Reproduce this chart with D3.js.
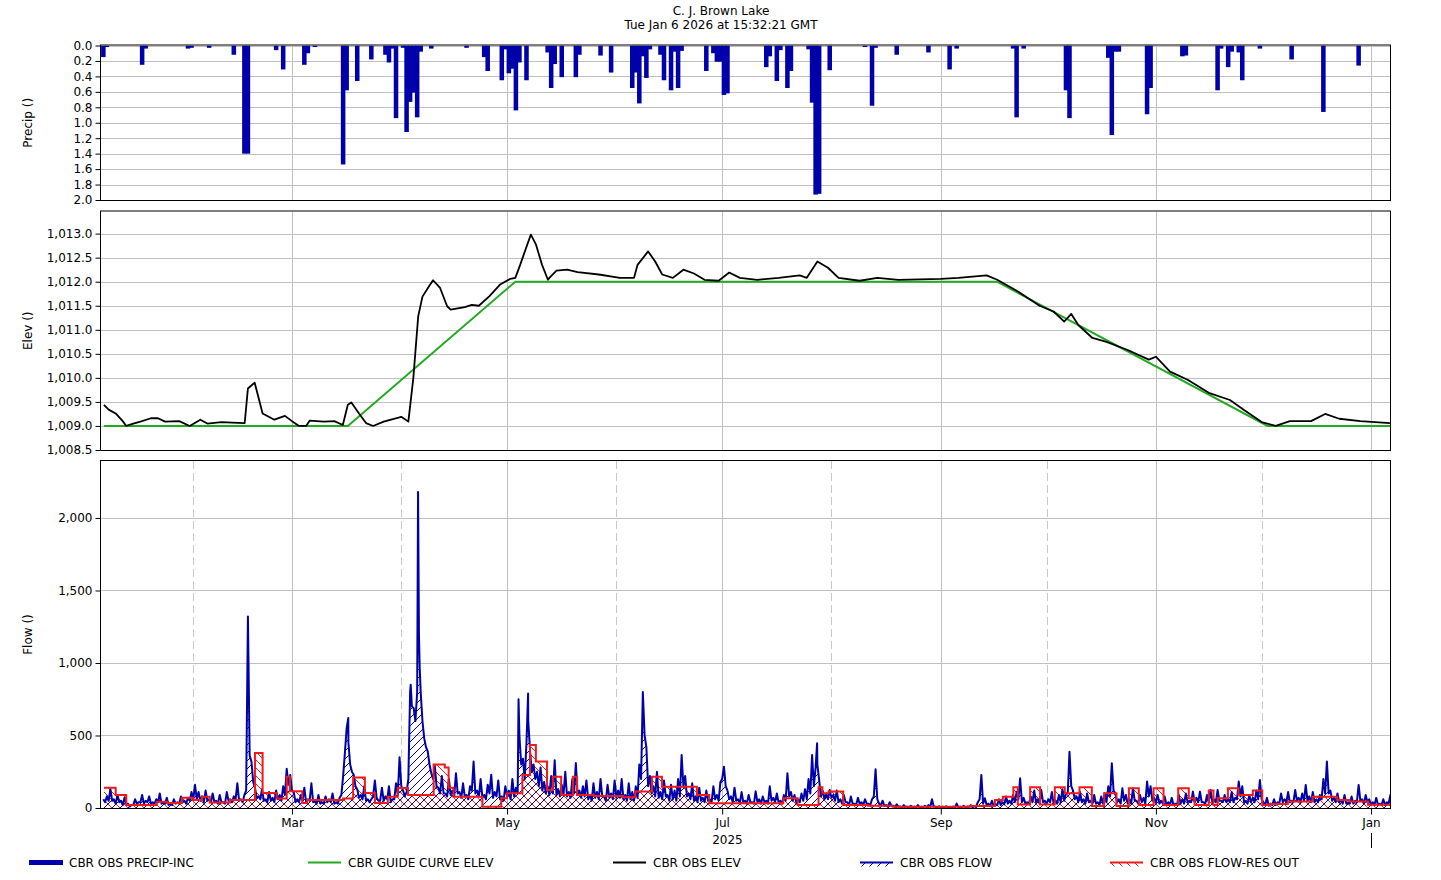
<!DOCTYPE html>
<html><head><meta charset="utf-8">
<script src="https://cdn.jsdelivr.net/npm/d3@7"></script>
<style>
body{margin:0;background:#fff;}
svg text{font-family:"DejaVu Sans",sans-serif;font-size:12px;fill:#000;}
</style>
</head><body>
<svg id="c" width="1441" height="880"></svg>
<script>
// ---------------- DATA ----------------
const title = "C. J. Brown Lake";
const subtitle = "Tue Jan 6 2026 at 15:32:21 GMT";
const precipTicks = [0.0,0.2,0.4,0.6,0.8,1.0,1.2,1.4,1.6,1.8,2.0];
const elevTicks = [1008.5,1009.0,1009.5,1010.0,1010.5,1011.0,1011.5,1012.0,1012.5,1013.0];
const flowTicks = [0,500,1000,1500,2000];
const majorMonths = ["2025-03-01","2025-05-01","2025-07-01","2025-09-01","2025-11-01","2026-01-01"];
const minorMonths = ["2025-02-01","2025-04-01","2025-06-01","2025-08-01","2025-10-01","2025-12-01"];
const yearLabel = "2025";
const legendItems = ["CBR OBS PRECIP-INC","CBR GUIDE CURVE ELEV","CBR OBS ELEV","CBR OBS FLOW","CBR OBS FLOW-RES OUT"];

const precip = [
["2025-01-06",0.15],["2025-01-07",0.02],["2025-01-17",0.25],["2025-01-18",0.04],["2025-01-30",0.04],["2025-01-31",0.03],
["2025-02-05",0.03],["2025-02-12",0.12],["2025-02-15",1.40],["2025-02-16",1.40],["2025-02-24",0.06],["2025-02-26",0.31],
["2025-03-04",0.25],["2025-03-05",0.10],["2025-03-07",0.02],["2025-03-15",1.54],["2025-03-16",0.58],["2025-03-19",0.46],
["2025-03-23",0.18],["2025-03-27",0.12],["2025-03-28",0.22],["2025-03-29",0.04],["2025-03-30",0.94],
["2025-04-01",0.03],["2025-04-02",1.12],["2025-04-03",0.73],["2025-04-04",0.61],["2025-04-05",0.93],["2025-04-06",0.08],
["2025-04-09",0.04],["2025-04-19",0.03],["2025-04-24",0.15],["2025-04-25",0.33],["2025-04-29",0.45],["2025-04-30",0.05],
["2025-05-01",0.36],["2025-05-02",0.30],["2025-05-03",0.84],["2025-05-04",0.22],["2025-05-06",0.45],["2025-05-12",0.09],
["2025-05-13",0.55],["2025-05-14",0.24],["2025-05-16",0.41],["2025-05-20",0.41],["2025-05-21",0.12],["2025-05-27",0.13],
["2025-05-30",0.35],["2025-06-05",0.55],["2025-06-06",0.35],["2025-06-07",0.75],["2025-06-08",0.14],["2025-06-09",0.42],
["2025-06-10",0.05],["2025-06-13",0.12],["2025-06-14",0.45],["2025-06-16",0.58],["2025-06-17",0.08],["2025-06-18",0.55],
["2025-06-19",0.07],["2025-06-26",0.33],["2025-06-28",0.10],["2025-06-29",0.21],["2025-06-30",0.21],["2025-07-01",0.64],
["2025-07-02",0.62],["2025-07-13",0.28],["2025-07-14",0.14],["2025-07-16",0.46],["2025-07-17",0.06],["2025-07-19",0.55],
["2025-07-20",0.33],["2025-07-25",0.05],["2025-07-26",0.74],["2025-07-27",1.93],["2025-07-28",1.92],["2025-07-31",0.32],
["2025-08-10",0.02],["2025-08-12",0.78],["2025-08-13",0.03],["2025-08-19",0.12],["2025-08-28",0.09],["2025-09-03",0.31],
["2025-09-05",0.04],["2025-09-21",0.04],["2025-09-22",0.93],["2025-09-24",0.04],["2025-10-06",0.58],["2025-10-07",0.94],
["2025-10-18",0.16],["2025-10-19",1.16],["2025-10-20",0.08],["2025-10-21",0.08],["2025-10-29",0.89],["2025-10-30",0.55],
["2025-11-08",0.14],["2025-11-09",0.13],["2025-11-18",0.58],["2025-11-19",0.04],["2025-11-21",0.28],["2025-11-22",0.08],
["2025-11-24",0.09],["2025-11-25",0.45],["2025-11-30",0.04],["2025-12-09",0.18],["2025-12-18",0.86],["2025-12-28",0.26]
];

const guideCurve = [["2025-01-06T16:00",1009.0],["2025-03-16T20:00",1009.0],["2025-05-03T08:00",1012.0],
["2025-09-16T22:00",1012.0],["2025-12-02T16:00",1009.0],["2026-01-06T09:30",1009.0]];

const elevObs = [
["2025-01-06T16:00",1009.44],["2025-01-08",1009.34],["2025-01-10",1009.26],["2025-01-12",1009.1],["2025-01-13",1009.0],
["2025-01-15",1009.05],["2025-01-17",1009.09],["2025-01-20",1009.16],["2025-01-22",1009.16],["2025-01-24",1009.09],
["2025-01-28",1009.1],["2025-01-31",1009.0],["2025-02-03",1009.13],["2025-02-05",1009.05],["2025-02-09",1009.08],
["2025-02-12",1009.07],["2025-02-15T14:00",1009.06],["2025-02-16T12:00",1009.78],["2025-02-18T10:00",1009.9],
["2025-02-20T16:00",1009.26],["2025-02-24",1009.13],["2025-02-27",1009.21],["2025-03-01",1009.1],["2025-03-03",1009.0],
["2025-03-05",1009.0],["2025-03-06",1009.11],["2025-03-10",1009.09],["2025-03-13",1009.1],["2025-03-15T10:00",1009.02],
["2025-03-16T20:00",1009.44],["2025-03-17T20:00",1009.49],["2025-03-20",1009.26],["2025-03-22",1009.06],["2025-03-24",1009.0],
["2025-03-27",1009.09],["2025-04-01",1009.19],["2025-04-03",1009.09],["2025-04-04T10:00",1010.0],["2025-04-05T19:00",1011.28],
["2025-04-07",1011.69],["2025-04-09",1011.92],["2025-04-10",1012.03],["2025-04-12",1011.87],["2025-04-14",1011.49],
["2025-04-15",1011.42],["2025-04-19",1011.47],["2025-04-21",1011.52],["2025-04-23",1011.5],["2025-04-26",1011.7],
["2025-04-29",1011.94],["2025-05-01T22:00",1012.06],["2025-05-03T08:00",1012.08],["2025-05-04T17:00",1012.35],
["2025-05-06T17:00",1012.77],["2025-05-07T18:00",1012.98],["2025-05-09T05:00",1012.77],["2025-05-10T22:00",1012.35],
["2025-05-12T14:00",1012.04],["2025-05-13",1012.08],["2025-05-15",1012.23],["2025-05-18",1012.25],["2025-05-21",1012.2],
["2025-05-27",1012.15],["2025-06-02",1012.08],["2025-06-06",1012.08],["2025-06-07",1012.35],["2025-06-10",1012.63],
["2025-06-12",1012.42],["2025-06-14",1012.15],["2025-06-17",1012.08],["2025-06-20",1012.25],["2025-06-23",1012.17],
["2025-06-26",1012.04],["2025-06-30",1012.02],["2025-07-03",1012.19],["2025-07-06",1012.08],["2025-07-11",1012.04],
["2025-07-17",1012.08],["2025-07-23",1012.13],["2025-07-25",1012.08],["2025-07-28",1012.42],["2025-07-31",1012.29],
["2025-08-03",1012.08],["2025-08-09",1012.02],["2025-08-14",1012.08],["2025-08-20",1012.04],["2025-09-01",1012.06],
["2025-09-06",1012.08],["2025-09-14",1012.13],["2025-09-17",1012.04],["2025-09-23",1011.79],["2025-09-29",1011.5],
["2025-10-03",1011.38],["2025-10-06",1011.17],["2025-10-08",1011.33],["2025-10-10",1011.1],["2025-10-14",1010.83],
["2025-10-18",1010.75],["2025-10-24",1010.58],["2025-10-30",1010.38],["2025-11-01",1010.44],["2025-11-05",1010.13],
["2025-11-10",1009.96],["2025-11-16",1009.69],["2025-11-22",1009.54],["2025-11-26",1009.33],["2025-12-01",1009.08],
["2025-12-05",1009.0],["2025-12-09",1009.1],["2025-12-15",1009.1],["2025-12-19",1009.25],["2025-12-23",1009.15],
["2025-12-29",1009.1],["2026-01-06T09:00",1009.06]
];

// observed flow: noon values and following-midnight values, one pair of arrays per month
const flowJan = [60,80,130,60,90,50,70,30,20,60,40,90,50,80,40,60,100,40,70,30,60,40,80,50,70,110]; // from Jan 6
const flowJanN = [40,50,50,30,40,20,30,10,20,30,40,30,40,30,30,40,30,30,20,20,30,30,40,30,50,60];
const flowFeb = [160,110,80,120,60,100,50,90,40,110,60,80,170,60,90,1320,320,140,80,130,60,110,70,120,90,150,270,228];
const flowFebN = [60,50,40,50,40,40,30,40,30,50,40,60,50,40,120,360,180,70,60,50,40,50,40,60,50,90,160,120];
const flowMar = [110,60,90,140,60,170,50,90,40,80,60,100,40,70,220,550,300,230,130,90,150,60,60,190,50,140,80,150,60,170,350];
const flowMarN = [40,40,50,40,50,40,30,30,30,40,40,30,30,90,380,450,250,150,70,60,50,40,80,70,50,50,60,40,60,90,150];
const flowApr = [120,110,800,690,800,800,480,390,240,290,140,220,100,200,120,240,110,170,90,150,320,120,200,90,160,230,110,190,80,150];
const flowAprN = [80,200,700,600,1200,600,420,300,200,150,100,100,80,90,80,100,70,80,60,120,100,80,70,60,100,70,80,60,50,80];
const flowMay = [120,200,140,500,340,450,400,300,250,280,180,150,220,330,130,160,250,110,200,310,120,150,190,90,170,110,200,80,160,100,190];
const flowMayN = [60,80,100,300,200,600,250,200,150,120,100,90,100,90,80,90,80,70,100,90,70,80,60,50,70,60,80,50,70,60,70];
const flowJun = [120,200,90,170,110,150,300,800,420,220,150,250,110,190,90,160,120,200,365,220,100,170,80,140,70,120,60,150,90,180];
const flowJunN = [70,60,50,60,50,70,200,500,150,100,80,70,60,80,50,60,50,80,150,80,60,50,40,50,40,50,40,60,50,200];
const flowJul = [285,120,80,140,60,110,50,90,40,115,60,80,50,150,70,100,50,90,240,110,90,60,100,130,200,365,280,193,120,100,124];
const flowJulN = [150,60,40,50,30,40,30,40,30,40,30,40,30,50,40,40,30,50,80,50,40,40,50,60,100,150,300,80,60,60,70];
const flowAug = [90,120,60,90,40,80,30,70,40,60,30,60,267,30,50,20,40,15,25,10,20,8,15,10,20,8,15,20,60,8,12];
const flowAugN = [50,40,30,40,20,30,20,30,20,30,20,80,60,20,15,10,15,8,8,5,8,5,5,5,5,5,5,8,10,5,5];
const flowSep = [8,12,6,10,30,8,15,10,20,12,40,228,67,30,50,25,60,40,80,50,90,110,205,70,40,80,120,60,124,50];
const flowSepN = [5,4,5,5,5,5,5,8,5,10,60,30,20,15,15,20,20,25,30,30,40,60,40,30,30,40,40,30,40,30];
const flowOct = [60,110,50,90,130,100,388,120,80,110,60,100,50,90,40,80,100,150,308,100,60,136,90,60,136,50,90,70,182,150,70];
const flowOctN = [40,30,30,40,50,100,150,60,40,40,30,40,30,30,20,30,40,80,120,40,30,50,30,30,50,30,40,30,80,50,40];
const flowNov = [90,50,80,40,70,30,90,60,100,50,113,70,113,40,90,124,60,124,50,90,60,110,70,182,150,50,90,70,120,193];
const flowNovN = [30,30,20,20,20,20,30,30,40,40,40,40,40,30,40,40,40,50,40,40,40,40,60,80,40,30,40,40,60,60];
const flowDec = [40,70,30,60,40,100,60,110,50,124,70,100,159,80,110,60,90,200,320,120,70,100,50,90,40,80,50,159,60,90,60];
const flowDecN = [20,15,20,20,30,40,40,40,40,50,40,50,50,40,40,40,60,100,100,50,40,40,30,30,30,30,40,50,30,40,20];
const flowJan26 = [40,70,30,60,40,90];
const flowJan26N = [20,20,20,20,30,40];
const flowMonthStarts = ["2025-01-06","2025-02-01","2025-03-01","2025-04-01","2025-05-01","2025-06-01","2025-07-01",
"2025-08-01","2025-09-01","2025-10-01","2025-11-01","2025-12-01","2026-01-01"];
// sub-daily peaks
const flowPeaks = [["2025-03-16T23:00",620],["2025-04-03T16:00",850],["2025-04-05T18:00",2180],["2025-04-06T05:00",975],
["2025-05-04T06:00",750],["2025-05-06T23:00",790],["2025-07-27T22:00",446]];

// reservoir outflow (step changes)
const resOut = [
["2025-01-06T16:00",140],["2025-01-10",90],["2025-01-13",20],["2025-01-21T16:00",43],["2025-01-24T12:00",35],
["2025-01-28T18:00",71],["2025-02-01",55],["2025-02-03T12:00",78],["2025-02-05T16:00",38],["2025-02-11T10:00",55],
["2025-02-18T12:00",379],["2025-02-20T16:00",103],["2025-02-24T16:00",66],["2025-02-27T12:00",216],["2025-02-28T10:00",115],
["2025-03-03T22:00",35],["2025-03-05T08:00",55],["2025-03-15T12:00",66],["2025-03-18T08:00",210],["2025-03-21T16:00",103],
["2025-03-24T12:00",35],["2025-03-28T04:00",78],["2025-03-31",138],["2025-04-02T22:00",90],["2025-04-10T04:00",300],
["2025-04-13T08:00",280],["2025-04-14T10:00",140],["2025-04-15T20:00",78],["2025-04-24",9],["2025-04-29T08:00",67],
["2025-05-01",101],["2025-05-05T08:00",228],["2025-05-07T12:00",434],["2025-05-09T04:00",320],["2025-05-12T08:00",124],
["2025-05-14",216],["2025-05-16T08:00",90],["2025-05-19T16:00",216],["2025-05-20T20:00",90],["2025-05-25T14:00",83],
["2025-06-02T22:00",74],["2025-06-06T08:00",113],["2025-06-11T02:00",216],["2025-06-13T22:00",147],["2025-06-23T20:00",90],
["2025-06-27T08:00",32],["2025-07-18T08:00",67],["2025-07-22T10:00",20],["2025-07-28T08:00",143],["2025-07-29T10:00",101],
["2025-07-31T04:00",113],["2025-08-04T08:00",20],["2025-08-11T08:00",16],["2025-08-18T08:00",9],["2025-09-09T08:00",14],
["2025-09-16T08:00",55],["2025-09-18T14:00",78],["2025-09-21T14:00",143],["2025-09-22T20:00",25],["2025-09-26T08:00",143],
["2025-09-29T04:00",25],["2025-10-03T08:00",143],["2025-10-06T04:00",101],["2025-10-10T08:00",143],["2025-10-13T20:00",14],
["2025-10-17T08:00",101],["2025-10-20T20:00",14],["2025-10-24T08:00",136],["2025-10-27T04:00",20],["2025-10-31T08:00",136],
["2025-11-03T04:00",20],["2025-11-07T08:00",136],["2025-11-10T08:00",67],["2025-11-12",20],["2025-11-16",120],
["2025-11-17T08:00",20],["2025-11-18T12:00",67],["2025-11-21T10:00",136],["2025-11-24T10:00",90],["2025-11-28T12:00",120],
["2025-12-01T04:00",20],["2025-12-03T04:00",28],["2025-12-08T10:00",44],["2025-12-15T10:00",78],["2025-12-22T10:00",55],
["2025-12-25T22:00",44],["2025-12-31T04:00",23],["2026-01-06T12:00",23]
];

// ---------------- RENDER ----------------
const NAVY = "#0000aa", RED = "#f01a1a", GREEN = "#22aa22", GRID = "#c0c0c0";
function pd(s){ return new Date(s.length === 10 ? s + "T00:00:00Z" : s + "Z"); }

const svg = d3.select("#c");
const X0 = 101, X1 = 1390;
const x = d3.scaleUtc().domain([pd("2025-01-05T20:00"), pd("2026-01-06T09:30")]).range([X0, X1]);
const Pn = {top:45.5, bottom:200}, En = {top:211.5, bottom:450}, Fn = {top:461, bottom:808};
const yP = d3.scaleLinear().domain([0, 2.0]).range([Pn.top, Pn.bottom]);
const yE = d3.scaleLinear().domain([1008.5, 1013.46]).range([En.bottom, En.top]);
const yF = d3.scaleLinear().domain([0, 2393]).range([Fn.bottom, Fn.top]);
const cr = v => Math.round(v) + 0.5;

const defs = svg.append("defs");
[["clipP",Pn],["clipE",En],["clipF",Fn]].forEach(([id,p])=>{
  defs.append("clipPath").attr("id",id).append("rect").attr("x",X0).attr("y",p.top).attr("width",X1-X0).attr("height",p.bottom-p.top);
});
const pb = defs.append("pattern").attr("id","hatchB").attr("patternUnits","userSpaceOnUse").attr("width",8).attr("height",8);
pb.append("path").attr("d","M-2,2 L2,-2 M0,8 L8,0 M6,10 L10,6").attr("stroke",NAVY).attr("stroke-width",1);
const pr = defs.append("pattern").attr("id","hatchR").attr("patternUnits","userSpaceOnUse").attr("width",8).attr("height",8);
pr.append("path").attr("d","M-2,6 L2,10 M0,0 L8,8 M6,-2 L10,2").attr("stroke",RED).attr("stroke-width",1);

// title
svg.append("text").attr("x",721).attr("y",15).attr("text-anchor","middle").text(title);
svg.append("text").attr("x",721).attr("y",29).attr("text-anchor","middle").text(subtitle);

function panelGrid(p, yScale, ticks, dashedMinor){
  const g = svg.append("g");
  ticks.forEach(t=>{
    const yy = cr(yScale(t));
    g.append("line").attr("x1",X0).attr("x2",X1).attr("y1",yy).attr("y2",yy).attr("stroke",GRID).attr("stroke-width",1);
  });
  majorMonths.forEach(m=>{
    const xx = cr(x(pd(m)));
    g.append("line").attr("x1",xx).attr("x2",xx).attr("y1",p.top).attr("y2",p.bottom).attr("stroke",GRID).attr("stroke-width",1);
  });
  if(dashedMinor){
    minorMonths.forEach(m=>{
      const xx = cr(x(pd(m)));
      g.append("line").attr("x1",xx).attr("x2",xx).attr("y1",p.top).attr("y2",p.bottom)
        .attr("stroke","#c8c8c8").attr("stroke-width",1).attr("stroke-dasharray","8,4");
    });
  }
}
function panelAxis(p, yScale, ticks, fmt, label){
  const ax = svg.append("g").attr("transform",`translate(${X0-0.5},0)`)
    .call(d3.axisLeft(yScale).tickValues(ticks).tickFormat(fmt).tickSize(5).tickPadding(3));
  ax.select(".domain").remove();
  ax.selectAll("text").style("font-family","DejaVu Sans").style("font-size","12px").attr("fill","#000");
  ax.selectAll(".tick line").attr("stroke","#000");
  svg.append("rect").attr("x",X0-0.5).attr("y",p.top-0.5).attr("width",X1-X0+1).attr("height",p.bottom-p.top+1)
    .attr("fill","none").attr("stroke","#000").attr("stroke-width",1);
  svg.append("text").attr("transform",`translate(32,${(p.top+p.bottom)/2}) rotate(-90)`)
    .attr("text-anchor","middle").text(label);
}

// ---- Precip panel
panelGrid(Pn, yP, precipTicks, false);
svg.append("g").attr("clip-path","url(#clipP)").selectAll("rect").data(precip).join("rect")
  .attr("x", d => x(pd(d[0])) - 0.5)
  .attr("width", d => x(d3.utcDay.offset(pd(d[0]),1)) - x(pd(d[0])) + 1)
  .attr("y", yP(0))
  .attr("height", d => yP(d[1]) - yP(0))
  .attr("fill", NAVY);
panelAxis(Pn, yP, precipTicks, d3.format(".1f"), "Precip ()");

// ---- Elev panel
panelGrid(En, yE, elevTicks, false);
const ge = svg.append("g").attr("clip-path","url(#clipE)");
const lineE = d3.line().x(d=>x(pd(d[0]))).y(d=>yE(d[1]));
ge.append("path").datum(guideCurve).attr("d",lineE).attr("fill","none").attr("stroke",GREEN).attr("stroke-width",2);
ge.append("path").datum(elevObs).attr("d",lineE).attr("fill","none").attr("stroke","#000").attr("stroke-width",1.8).attr("stroke-linejoin","round");
panelAxis(En, yE, elevTicks, d3.format(",.1f"), "Elev ()");

// ---- Flow panel
panelGrid(Fn, yF, flowTicks.filter(t=>t>0), true);
const monthArrays = [flowJan,flowFeb,flowMar,flowApr,flowMay,flowJun,flowJul,flowAug,flowSep,flowOct,flowNov,flowDec,flowJan26];
const nightArrays = [flowJanN,flowFebN,flowMarN,flowAprN,flowMayN,flowJunN,flowJulN,flowAugN,flowSepN,flowOctN,flowNovN,flowDecN,flowJan26N];
let flowObs = [];
monthArrays.forEach((arr,i)=>{
  const start = pd(flowMonthStarts[i]);
  arr.forEach((v,j)=>{
    const day = d3.utcDay.offset(start,j).getTime();
    flowObs.push([new Date(day + 12*3600e3), v]);
    flowObs.push([new Date(day + 24*3600e3), nightArrays[i][j]]);
  });
});
flowPeaks.forEach(p=>flowObs.push([pd(p[0]), p[1]]));
flowObs.sort((a,b)=>a[0]-b[0]);
const resData = resOut.map(d=>[pd(d[0]), d[1]]);

const gf = svg.append("g").attr("clip-path","url(#clipF)");
const areaF = d3.area().x(d=>x(d[0])).y0(yF(0)).y1(d=>yF(d[1]));
const lineF = d3.line().x(d=>x(d[0])).y(d=>yF(d[1]));
gf.append("path").datum(flowObs).attr("d",areaF).attr("fill","url(#hatchB)");
gf.append("path").datum(resData).attr("d",areaF.curve(d3.curveStepAfter)).attr("fill","url(#hatchR)");
gf.append("path").datum(flowObs).attr("d",lineF).attr("fill","none").attr("stroke",NAVY).attr("stroke-width",2).attr("stroke-linejoin","round");
gf.append("path").datum(resData).attr("d",lineF.curve(d3.curveStepAfter)).attr("fill","none").attr("stroke",RED).attr("stroke-width",2);
panelAxis(Fn, yF, flowTicks, d3.format(","), "Flow ()");

// bottom time axis
const bx = svg.append("g").attr("transform",`translate(0,${Fn.bottom+0.5})`)
  .call(d3.axisBottom(x).tickValues(majorMonths.map(pd)).tickFormat(d3.utcFormat("%b")).tickSize(6).tickPadding(4));
bx.select(".domain").remove();
bx.selectAll("text").style("font-family","DejaVu Sans").style("font-size","12px").attr("fill","#000");
bx.selectAll(".tick line").attr("stroke","#000");
const yStart = x(pd("2025-01-01")), yEnd = x(pd("2026-01-01"));
svg.append("text").attr("x",(yStart+yEnd)/2).attr("y",844).attr("text-anchor","middle").text(yearLabel);
svg.append("line").attr("x1",cr(yEnd)).attr("x2",cr(yEnd)).attr("y1",833).attr("y2",848).attr("stroke","#000");

// legend
const lg = svg.append("g");
const LY = 862.5;
const legX = [29,308,613,860,1110];
lg.append("rect").attr("x",legX[0]).attr("y",LY-2.5).attr("width",34).attr("height",5).attr("fill",NAVY);
lg.append("line").attr("x1",legX[1]).attr("x2",legX[1]+33).attr("y1",LY).attr("y2",LY).attr("stroke",GREEN).attr("stroke-width",2);
lg.append("line").attr("x1",legX[2]).attr("x2",legX[2]+33).attr("y1",LY).attr("y2",LY).attr("stroke","#000").attr("stroke-width",2);
lg.append("rect").attr("x",legX[3]).attr("y",LY).attr("width",33).attr("height",4).attr("fill","url(#hatchB)");
lg.append("line").attr("x1",legX[3]).attr("x2",legX[3]+33).attr("y1",LY).attr("y2",LY).attr("stroke",NAVY).attr("stroke-width",2);
lg.append("rect").attr("x",legX[4]).attr("y",LY).attr("width",33).attr("height",4).attr("fill","url(#hatchR)");
lg.append("line").attr("x1",legX[4]).attr("x2",legX[4]+33).attr("y1",LY).attr("y2",LY).attr("stroke",RED).attr("stroke-width",2);
legendItems.forEach((t,i)=>{
  lg.append("text").attr("x",legX[i]+40).attr("y",LY+4.5).text(t);
});
</script>
</body></html>
